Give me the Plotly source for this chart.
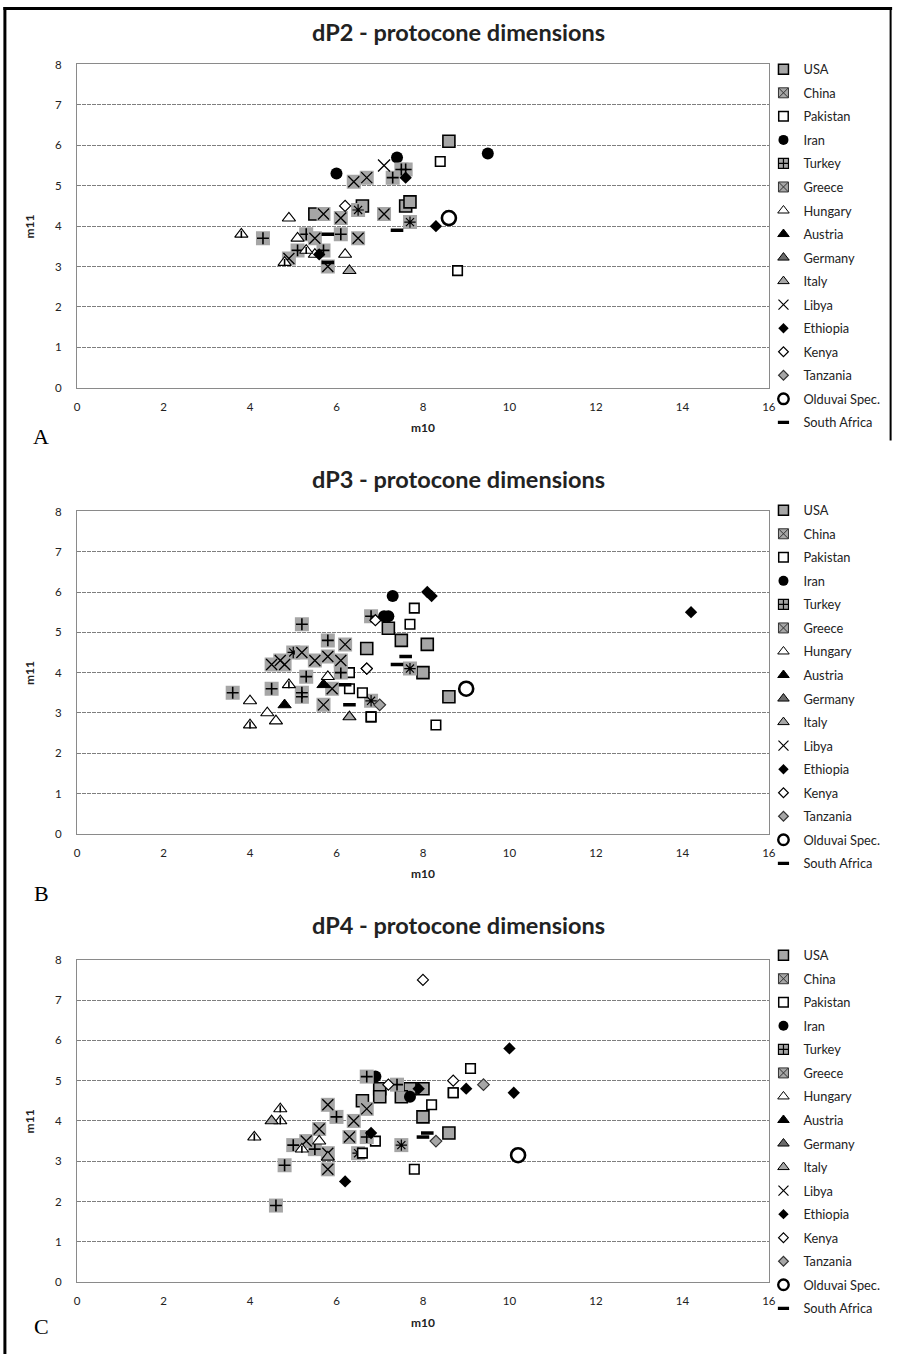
import plotly.graph_objects as go

# ---------------- data ----------------
COUNTRIES = ["USA", "China", "Pakistan", "Iran", "Turkey", "Greece", "Hungary", "Austria",
             "Germany", "Italy", "Libya", "Ethiopia", "Kenya", "Tanzania", "Olduvai Spec.",
             "South Africa"]

PANEL_TITLES = ["dP2 - protocone dimensions", "dP3 - protocone dimensions",
                "dP4 - protocone dimensions"]
PANEL_LETTERS = ["A", "B", "C"]
X_TICKS = [0, 2, 4, 6, 8, 10, 12, 14, 16]
Y_TICKS = [0, 1, 2, 3, 4, 5, 6, 7, 8]

# dP2
dp2_country = ["USA", "USA", "USA", "USA", "USA",
               "China", "China",
               "Pakistan", "Pakistan",
               "Iran", "Iran", "Iran",
               "Turkey", "Turkey", "Turkey", "Turkey", "Turkey", "Turkey", "Turkey", "Turkey",
               "Greece", "Greece", "Greece", "Greece", "Greece", "Greece", "Greece", "Greece", "Greece",
               "Hungary", "Hungary", "Hungary", "Hungary",
               "Germany", "Germany", "Germany",
               "Italy",
               "Libya",
               "Ethiopia", "Ethiopia", "Ethiopia",
               "Kenya",
               "Olduvai Spec.",
               "South Africa", "South Africa", "South Africa"]
dp2_m10 = [8.6, 6.6, 7.6, 7.7, 5.5,
           6.5, 7.7,
           8.4, 8.8,
           9.5, 7.4, 6.0,
           7.6, 7.5, 7.3, 4.3, 5.3, 6.1, 5.7, 5.1,
           6.4, 6.7, 5.7, 6.1, 7.1, 5.5, 6.5, 4.9, 5.8,
           4.9, 5.1, 5.5, 6.2,
           3.8, 5.3, 4.8,
           6.3,
           7.1,
           7.6, 8.3, 5.6,
           6.2,
           8.6,
           7.4, 5.8, 5.8]
dp2_m11 = [6.1, 4.5, 4.5, 4.6, 4.3,
           4.4, 4.1,
           5.6, 2.9,
           5.8, 5.7, 5.3,
           5.4, 5.4, 5.2, 3.7, 3.8, 3.8, 3.4, 3.4,
           5.1, 5.2, 4.3, 4.2, 4.3, 3.7, 3.7, 3.2, 3.0,
           4.2, 3.7, 3.3, 3.3,
           3.8, 3.4, 3.1,
           2.9,
           5.5,
           5.2, 4.0, 3.3,
           4.5,
           4.2,
           3.9, 3.8, 3.1]

# dP3
dp3_country = ["USA", "USA", "USA", "USA", "USA", "USA",
               "China", "China", "China",
               "Pakistan", "Pakistan", "Pakistan", "Pakistan", "Pakistan", "Pakistan", "Pakistan", "Pakistan",
               "Iran", "Iran", "Iran",
               "Turkey", "Turkey", "Turkey", "Turkey", "Turkey", "Turkey", "Turkey", "Turkey", "Turkey",
               "Greece", "Greece", "Greece", "Greece", "Greece", "Greece", "Greece", "Greece", "Greece", "Greece",
               "Hungary", "Hungary", "Hungary", "Hungary",
               "Austria", "Austria",
               "Germany", "Germany",
               "Italy",
               "Ethiopia", "Ethiopia", "Ethiopia",
               "Kenya", "Kenya", "Kenya",
               "Tanzania",
               "Olduvai Spec.",
               "South Africa", "South Africa", "South Africa", "South Africa"]
dp3_m10 = [7.2, 7.5, 8.1, 6.7, 8.0, 8.6,
           5.0, 7.7, 6.8,
           7.8, 7.7, 6.3, 6.3, 6.6, 6.8, 8.3, 6.8,
           7.3, 7.1, 7.2,
           6.8, 5.2, 5.8, 6.1, 5.3, 4.5, 5.2, 5.2, 3.6,
           5.2, 4.7, 4.8, 4.5, 5.5, 5.8, 6.1, 6.2, 5.9, 5.7,
           5.8, 4.0, 4.4, 4.6,
           5.7, 4.8,
           4.9, 4.0,
           6.3,
           8.1, 8.2, 14.2,
           6.9, 6.7, 6.7,
           7.0,
           9.0,
           7.6, 7.4, 6.2, 6.3]
dp3_m11 = [5.1, 4.8, 4.7, 4.6, 4.0, 3.4,
           4.5, 4.1, 3.3,
           5.6, 5.2, 4.0, 3.6, 3.5, 2.9, 2.7, 2.9,
           5.9, 5.4, 5.4,
           5.4, 5.2, 4.8, 4.0, 3.9, 3.6, 3.5, 3.4, 3.5,
           4.5, 4.3, 4.2, 4.2, 4.3, 4.4, 4.3, 4.7, 3.6, 3.2,
           3.9, 3.3, 3.0, 2.8,
           3.7, 3.2,
           3.7, 2.7,
           2.9,
           6.0, 5.9, 5.5,
           5.3, 4.1, 4.1,
           3.2,
           3.6,
           4.4, 4.2, 3.7, 3.2]

# dP4
dp4_country = ["USA", "USA", "USA", "USA", "USA", "USA", "USA", "USA",
               "China", "China",
               "Pakistan", "Pakistan", "Pakistan", "Pakistan", "Pakistan", "Pakistan", "Pakistan",
               "Iran", "Iran",
               "Turkey", "Turkey", "Turkey", "Turkey", "Turkey", "Turkey", "Turkey", "Turkey",
               "Greece", "Greece", "Greece", "Greece", "Greece", "Greece", "Greece", "Greece",
               "Hungary",
               "Germany", "Germany", "Germany", "Germany",
               "Italy", "Italy",
               "Ethiopia", "Ethiopia", "Ethiopia", "Ethiopia", "Ethiopia", "Ethiopia",
               "Kenya", "Kenya", "Kenya",
               "Tanzania", "Tanzania",
               "Olduvai Spec.",
               "South Africa", "South Africa"]
dp4_m10 = [8.0, 8.6, 7.7, 7.0, 7.0, 7.5, 6.6, 8.0,
           7.5, 6.5,
           9.1, 8.7, 8.2, 7.8, 6.9, 6.6, 8.7,
           6.9, 7.7,
           6.7, 7.4, 6.0, 6.7, 4.6, 4.8, 5.0, 5.5,
           6.7, 5.8, 6.4, 5.6, 6.3, 5.3, 5.8, 5.8,
           5.6,
           4.7, 4.7, 4.1, 5.2,
           4.5, 5.8,
           10.0, 10.1, 9.0, 7.9, 6.8, 6.2,
           8.0, 8.7, 7.2,
           9.4, 8.3,
           10.2,
           8.1, 8.0]
dp4_m11 = [4.1, 3.7, 4.8, 4.8, 4.6, 4.6, 4.5, 4.8,
           3.4, 3.2,
           5.3, 4.7, 4.4, 2.8, 3.5, 3.2, 4.7,
           5.1, 4.6,
           5.1, 4.9, 4.1, 3.6, 1.9, 2.9, 3.4, 3.3,
           4.3, 4.4, 4.0, 3.8, 3.6, 3.5, 3.2, 2.8,
           3.5,
           4.3, 4.0, 3.6, 3.3,
           4.0, 3.1,
           5.8, 4.7, 4.8, 4.8, 3.7, 2.5,
           7.5, 5.0, 4.9,
           4.9, 3.5,
           3.15,
           3.7, 3.6]

PANELS = [(dp2_country, dp2_m10, dp2_m11),
          (dp3_country, dp3_m10, dp3_m11),
          (dp4_country, dp4_m10, dp4_m11)]

# ---------------- styles ----------------
GRAY = "#a6a6a6"
BLK = "black"
FONT = "Lato"


def mk(symbol, size, color, lc=BLK, lw=0.0):
    return dict(symbol=symbol, size=size, color=color, line=dict(color=lc, width=lw))


# marker layers drawn in the plot (first = bottom)
PLOT_STYLE = {
    "USA": [mk("square", 12, GRAY, BLK, 1.6)],
    "China": [mk("square", 14, GRAY), mk("asterisk-open", 9.5, BLK, BLK, 1.2)],
    "Pakistan": [mk("square", 9.5, "white", BLK, 1.6)],
    "Iran": [mk("circle", 12, BLK)],
    "Turkey": [mk("square", 14, GRAY), mk("cross-thin-open", 8.5, BLK, BLK, 1.6)],
    "Greece": [mk("square", 14, GRAY), mk("x-thin-open", 11, BLK, BLK, 1.3)],
    "Hungary": [mk("triangle-up", 11.5, "white", BLK, 1.1)],
    "Austria": [mk("triangle-up", 11.5, BLK, BLK, 1.0)],
    "Germany": [mk("triangle-up", 11.5, "white", BLK, 1.1), mk("line-ns-open", 5, BLK, BLK, 1.6)],
    "Italy": [mk("triangle-up", 11.5, GRAY, BLK, 1.1)],
    "Libya": [mk("x-thin-open", 12, BLK, BLK, 1.3)],
    "Ethiopia": [mk("diamond", 9.5, BLK)],
    "Kenya": [mk("diamond", 8.5, "white", BLK, 1.2)],
    "Tanzania": [mk("diamond", 9, GRAY, "#333333", 1.2)],
    "Olduvai Spec.": [mk("circle-open", 14, BLK, BLK, 2.6)],
    "South Africa": [mk("line-ew-open", 9, BLK, BLK, 3.5)],
}

# icon shown in the legend
LEGEND_STYLE = {
    "USA": mk("square", 10, GRAY, BLK, 1.5),
    "China": mk("square-x", 10, GRAY, "#333333", 1.0),
    "Pakistan": mk("square", 9.5, "white", BLK, 1.5),
    "Iran": mk("circle", 10, BLK),
    "Turkey": mk("square-cross", 10, GRAY, BLK, 1.2),
    "Greece": mk("square-x", 10, GRAY, "#333333", 1.0),
    "Hungary": mk("triangle-up", 10, "white", BLK, 1.0),
    "Austria": mk("triangle-up", 10, BLK, BLK, 1.0),
    "Germany": mk("triangle-up", 10, "#6a6a6a", BLK, 1.0),
    "Italy": mk("triangle-up", 10, GRAY, BLK, 1.0),
    "Libya": mk("x-thin-open", 10, BLK, BLK, 1.2),
    "Ethiopia": mk("diamond", 8, BLK),
    "Kenya": mk("diamond", 7.5, "white", BLK, 1.2),
    "Tanzania": mk("diamond", 7.5, GRAY, "#333333", 1.2),
    "Olduvai Spec.": mk("circle-open", 10.5, BLK, BLK, 2.4),
    "South Africa": mk("line-ew-open", 8, BLK, BLK, 3.2),
}

# ---------------- layout geometry ----------------
W, H = 901, 1360
# target positions (pixels as seen in the final picture)
PX_L, PX_R = 77.5, 768.0
PANEL_PX = [(64.0, 387.3), (511.0, 833.3), (959.3, 1281.7)]   # (top, bottom)
TITLE_Y = [32, 479, 925]
LEGEND_FIRST = [69, 510, 955]          # centre of first legend row
LETTER_Y = [436, 893, 1326]

# the photographed page is slightly shrunk and shifted; map target -> page pixels
S_X, O_X = 0.987, 3.6
S_Y, O_Y = 0.9905, 6.5


def px_page(px):
    return (px - O_X) / S_X


def py_page(py):
    return (py - O_Y) / S_Y


def fx(px):
    return px_page(px) / W


def fy(py):
    return 1 - py_page(py) / H


fig = go.Figure()

for i, (ctry, xs, ys) in enumerate(PANELS):
    ax = "" if i == 0 else str(i + 1)
    leg = "legend" if i == 0 else f"legend{i + 1}"
    for c in COUNTRIES:
        # legend entry (no data points)
        fig.add_trace(go.Scatter(x=[None], y=[None], mode="markers", name=c,
                                 marker=LEGEND_STYLE[c], legend=leg, legendgroup=f"{c}{i}",
                                 xaxis="x" + ax, yaxis="y" + ax, showlegend=True,
                                 hoverinfo="skip"))
        px_ = [x for x, k in zip(xs, ctry) if k == c]
        py_ = [y for y, k in zip(ys, ctry) if k == c]
        if not px_:
            continue
        for layer in PLOT_STYLE[c]:
            fig.add_trace(go.Scatter(x=px_, y=py_, mode="markers", name=c, marker=layer,
                                     legendgroup=f"{c}{i}", showlegend=False,
                                     xaxis="x" + ax, yaxis="y" + ax))

layout = dict(
    width=W, height=H, margin=dict(l=0, r=0, t=0, b=0),
    paper_bgcolor="white", plot_bgcolor="white",
    font=dict(family=FONT, color="#222222"),
    showlegend=True,
    annotations=[], shapes=[],
)

for i in range(3):
    ax = "" if i == 0 else str(i + 1)
    top, bot = PANEL_PX[i]
    layout["xaxis" + ax] = dict(
        domain=[fx(PX_L), fx(PX_R)], anchor="y" + ax, range=[0, 16], tickvals=X_TICKS,
        showgrid=False, zeroline=False, showline=True, mirror=True,
        linecolor="#8a8a8a", linewidth=1.3, ticks="", ticklabelstandoff=8,
        tickfont=dict(size=11.5, family=FONT, color="#222222"))
    layout["yaxis" + ax] = dict(
        domain=[fy(bot), fy(top)], anchor="x" + ax, range=[0, 8], tickvals=Y_TICKS,
        showgrid=True, gridcolor="#7f7f7f", gridwidth=1, griddash="4px,1px",
        zeroline=False, showline=True, mirror=True, linecolor="#8a8a8a", linewidth=1.3,
        ticks="", ticklabelstandoff=12,
        tickfont=dict(size=11.5, family=FONT, color="#222222"))
    leg = "legend" if i == 0 else f"legend{i + 1}"
    layout[leg] = dict(
        x=769 / W, y=1 - (py_page(LEGEND_FIRST[i]) - 15.2) / H, xanchor="left", yanchor="top",
        xref="paper", yref="paper", bgcolor="rgba(0,0,0,0)",
        font=dict(size=12.8, family=FONT, color="#222222"),
        traceorder="grouped", tracegroupgap=3.9, itemclick=False, itemdoubleclick=False)
    # title
    layout["annotations"].append(dict(
        text=f"<b>{PANEL_TITLES[i]}</b>", x=fx(458), y=fy(TITLE_Y[i]), xref="paper", yref="paper",
        showarrow=False, xanchor="center", yanchor="middle",
        font=dict(size=23.5, family=FONT, color="#222222")))
    # axis titles
    layout["annotations"].append(dict(
        text="<b>m10</b>", x=fx(423), y=fy(bot + 40), xref="paper", yref="paper",
        showarrow=False, xanchor="center", yanchor="middle",
        font=dict(size=12, family=FONT, color="#222222")))
    layout["annotations"].append(dict(
        text="<b>m11</b>", x=fx(30), y=fy((top + bot) / 2), xref="paper", yref="paper",
        showarrow=False, xanchor="center", yanchor="middle", textangle=-90,
        font=dict(size=12, family=FONT, color="#222222")))
    # panel letter
    layout["annotations"].append(dict(
        text=PANEL_LETTERS[i], x=fx(42), y=fy(LETTER_Y[i]), xref="paper", yref="paper",
        showarrow=False, xanchor="center", yanchor="middle",
        font=dict(size=22, family="Liberation Serif", color="black")))

# outer frame: left edge, top edge and upper part of the right edge
FRAME = dict(type="line", xref="paper", yref="paper", layer="above")
layout["shapes"].append(dict(FRAME, x0=fx(5.5), x1=fx(5.5), y0=0, y1=1,
                             line=dict(color="black", width=3)))
layout["shapes"].append(dict(FRAME, x0=fx(4), x1=fx(891), y0=1 - 1.5 / H, y1=1 - 1.5 / H,
                             line=dict(color="black", width=3)))
layout["shapes"].append(dict(FRAME, x0=fx(889.5), x1=fx(889.5), y0=fy(440), y1=1,
                             line=dict(color="black", width=2)))

fig.update_layout(**layout)
fig.write_html(
    "out.html",
    config={"displayModeBar": False},
    post_script=(
        "document.documentElement.style.margin='0px';"
        "document.body.style.margin='0px';"
        "document.body.style.padding='0px';"
        "document.body.style.overflow='hidden';"
        "var gd=document.getElementById('{plot_id}');"
        "gd.style.position='absolute';gd.style.left='0px';gd.style.top='0px';"
    ),
)
